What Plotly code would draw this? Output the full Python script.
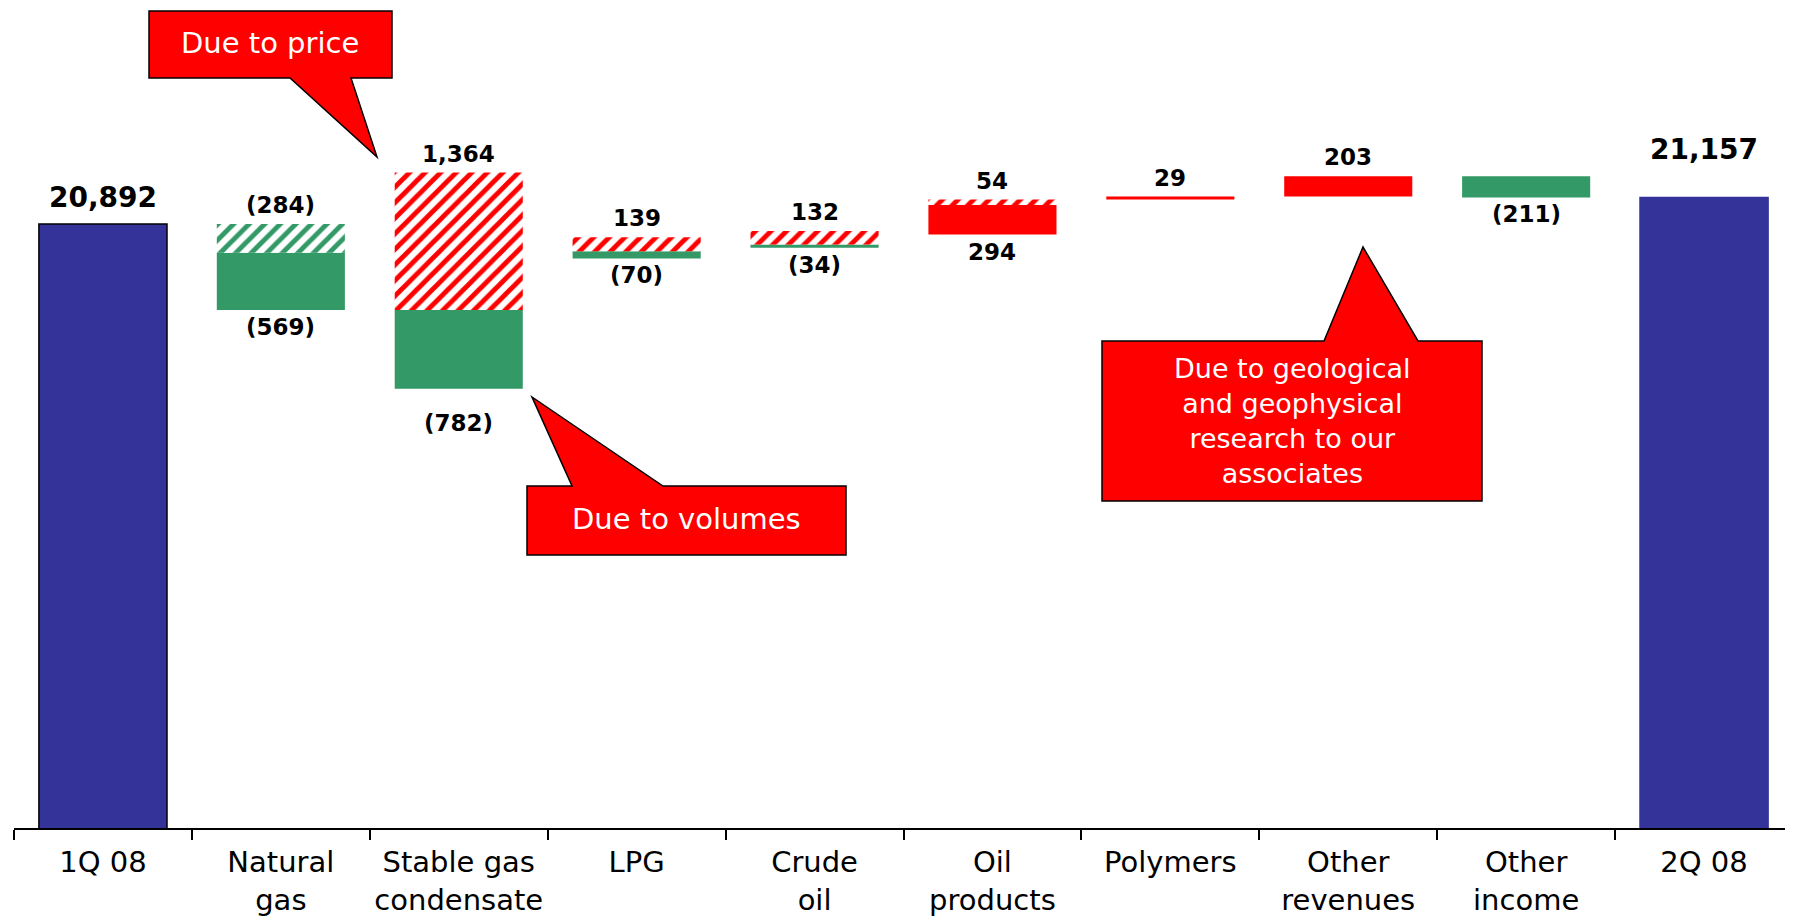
import plotly.graph_objects as go

categories = ['1Q 08', 'Natural<br>gas', 'Stable gas<br>condensate', 'LPG', 'Crude<br>oil',
              'Oil<br>products', 'Polymers', 'Other<br>revenues', 'Other<br>income', '2Q 08']
start_total = 20892
end_total = 21157
price_change = [None, -284, 1364, 139, 132, 54, None, None, None, None]
volume_change = [None, -569, -782, -70, -34, 294, 29, 203, -211, None]

RED = '#FF0000'
GREEN = '#339966'
BLUE = '#333399'
FONT = 'DejaVu Sans, Verdana, sans-serif'

# page has an 8px body margin, so the figure is a little smaller than the window
OFF = 8
W, H = 1793 - OFF, 921 - OFF
ML, MR, MT, MB = 6, 0, 0, 93


def fmt(v):
    s = f'{abs(v):,}'
    return f'({s})' if v < 0 else s


# stack the pieces of each category: falls go down from the running level
# (price first), rises go up from it (volume first)
price_base = [None] * len(categories)
vol_base = [None] * len(categories)
tops, bottoms = {}, {}
level = start_total
for i in range(1, len(categories) - 1):
    p, v = price_change[i], volume_change[i]
    up, down = level, level
    for kind, val in (('price', p), ('volume', v)):
        if val is None or val >= 0:
            continue
        if kind == 'price':
            price_base[i] = down
        else:
            vol_base[i] = down
        down += val
    for kind, val in (('volume', v), ('price', p)):
        if val is None or val < 0:
            continue
        if kind == 'price':
            price_base[i] = up
        else:
            vol_base[i] = up
        up += val
    tops[i], bottoms[i] = up, down
    level += (p or 0) + (v or 0)

col = lambda v: RED if v is not None and v > 0 else GREEN

fig = go.Figure()
fig.add_trace(go.Bar(
    x=[categories[0], categories[-1]], y=[start_total, end_total], base=0,
    marker=dict(color=BLUE, line=dict(color=['black', BLUE], width=1.5)),
    width=0.72, hoverinfo='skip'))
fig.add_trace(go.Bar(
    x=categories, y=volume_change, base=vol_base,
    marker=dict(color=[col(v) for v in volume_change], line=dict(width=0)),
    width=0.72, hoverinfo='skip'))
fig.add_trace(go.Bar(
    x=categories, y=price_change, base=price_base,
    marker=dict(color='white', line=dict(width=0),
                pattern=dict(shape='/', fgcolor=[col(v) for v in price_change],
                             bgcolor='white', size=11, solidity=0.45, fillmode='replace')),
    width=0.72, hoverinfo='skip'))

LBL = dict(family='DejaVu Sans, sans-serif', size=23, color='black')
# the condensate volume label sits a bit lower, clear of the callout arrow
lower_nudge = {2: -17}
ann = []
for i in range(1, len(categories) - 1):
    p, v = price_change[i], volume_change[i]
    if p is not None:
        above, below = p, v
    else:
        above, below = (v, None) if v > 0 else (None, v)
    if above is not None:
        ann.append(dict(x=categories[i], y=tops[i], text=f'<b>{fmt(above)}</b>', yanchor='bottom',
                        yshift=4, showarrow=False, font=LBL))
    if below is not None:
        ann.append(dict(x=categories[i], y=bottoms[i], text=f'<b>{fmt(below)}</b>', yanchor='top',
                        yshift=-2 + lower_nudge.get(i, 0), showarrow=False, font=LBL))
for c, v, sh in ((categories[0], start_total, 8), (categories[-1], end_total, 29)):
    ann.append(dict(x=c, y=v, text=f'<b>{fmt(v)}</b>', yanchor='bottom', yshift=sh, showarrow=False,
                    font=dict(family='DejaVu Sans, sans-serif', size=28, color='black')))

# callout boxes (page pixel positions converted to paper coordinates)
PW, PH = W - ML - MR, H - MT - MB


def px(x, y):
    x, y = x - OFF, y - OFF
    return (x - ML) / PW, (PH + MT - y) / PH


def callout(pts):
    return 'M ' + ' L '.join('%.5f,%.5f' % px(x, y) for x, y in pts) + ' Z'


callouts = [
    ([(149, 11), (392, 11), (392, 78), (351, 78), (377, 157), (290, 78), (149, 78)],
     'Due to price', (270, 43), 29),
    ([(527, 486), (572, 486), (532, 397), (663, 486), (846, 486), (846, 555), (527, 555)],
     'Due to volumes', (686, 519), 29),
    ([(1102, 341), (1324, 341), (1363, 247), (1418, 341), (1482, 341), (1482, 501), (1102, 501)],
     'Due to geological<br>and geophysical<br>research to our<br>associates', (1292, 421), 27),
]
shapes = []
for pts, text, (tx, ty), fs in callouts:
    shapes.append(dict(type='path', xref='paper', yref='paper', path=callout(pts),
                       fillcolor=RED, line=dict(color='black', width=1.5), layer='above'))
    xp, yp = px(tx, ty)
    ann.append(dict(xref='paper', yref='paper', x=xp, y=yp, text=text,
                    showarrow=False, font=dict(family=FONT, size=fs, color='white'),
                    xanchor='center', yanchor='middle'))

fig.update_layout(
    width=W, height=H,
    margin=dict(l=ML, r=MR, t=MT, b=MB),
    paper_bgcolor='white', plot_bgcolor='white',
    barmode='overlay', showlegend=False,
    font=dict(family=FONT, color='black'),
    xaxis=dict(type='category', categoryorder='array', categoryarray=categories,
               showline=True, linecolor='black', linewidth=2, automargin=False,
               ticks='outside', tickson='boundaries', ticklen=10, tickcolor='black',
               tickwidth=1.5, tickfont=dict(size=29, color='black'), tickangle=0,
               ticklabelstandoff=7, showgrid=False),
    yaxis=dict(range=[14895, 23117 - OFF * 9.93], visible=False, showgrid=False),
    annotations=ann, shapes=shapes,
)

fig.write_html('out.html')
